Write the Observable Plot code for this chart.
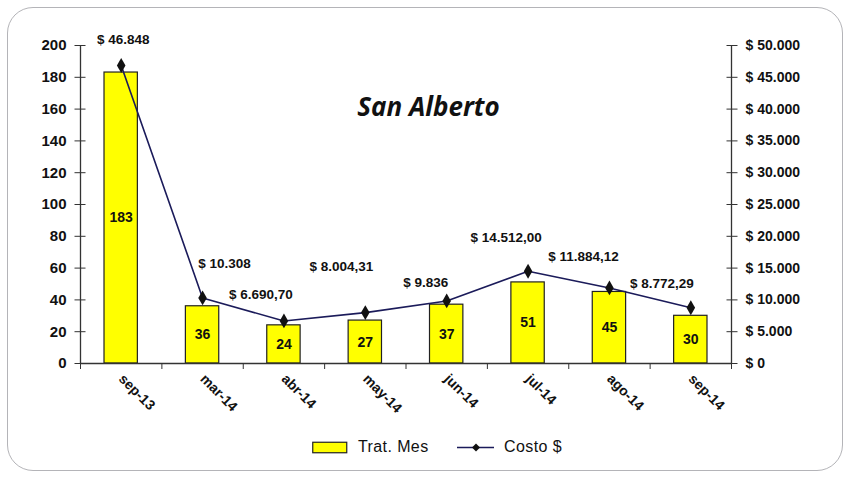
<!DOCTYPE html>
<html>
<head>
<meta charset="utf-8">
<script src="https://cdn.jsdelivr.net/npm/d3@7"></script>
<script src="https://cdn.jsdelivr.net/npm/@observablehq/plot@0.6"></script>
<style>
  html, body { margin: 0; padding: 0; background: #fff; }
  #wrap { position: relative; width: 847px; height: 477px; overflow: hidden; font-family: "Liberation Sans", Arial, sans-serif; }
  #border { position: absolute; left: 7px; top: 7px; width: 836px; height: 464px; border: 1.5px solid #b4b4b8; border-radius: 26px; box-sizing: border-box; pointer-events: none; }
  #title { position: absolute; left: 0; width: 857px; top: 88px; text-align: center; font-family: "Open Sans", "DejaVu Sans", sans-serif; font-weight: 700; font-style: italic; font-size: 26px; color: #111; }
  .leg { position: absolute; top: 438px; display: flex; align-items: center; font-size: 16px; letter-spacing: 0.4px; color: #111; }
  .leg svg { display: block; }
</style>
</head>
<body>
<div id="wrap">
  <div id="chart"></div>
  <div id="title">San Alberto</div>
  <div class="leg" style="left:312px">
    <svg width="36" height="13"><rect x="0.75" y="1.25" width="34" height="10.5" fill="#ffff00" stroke="#222" stroke-width="1.2"></rect></svg>
    <span style="margin-left:10px">Trat. Mes</span>
  </div>
  <div class="leg" style="left:457px">
    <svg width="38" height="13"><line x1="0" y1="6.5" x2="37" y2="6.5" stroke="#1b1b5a" stroke-width="1.3"></line><path d="M19,2.5 L23,6.5 L19,10.5 L15,6.5 Z" fill="#111"></path></svg>
    <span style="margin-left:9px">Costo $</span>
  </div>
  <div id="border"></div>
</div>
<script>
const months = ["sep-13", "mar-14", "abr-14", "may-14", "jun-14", "jul-14", "ago-14", "sep-14"];
const tratMes = [183, 36, 24, 27, 37, 51, 45, 30];
const costo = [46848, 10308, 6690.70, 8004.31, 9836, 14512.00, 11884.12, 8772.29];
const costoLabels = ["$ 46.848", "$ 10.308", "$ 6.690,70", "$ 8.004,31", "$ 9.836", "$ 14.512,00", "$ 11.884,12", "$ 8.772,29"];
const leftTicks = [0, 20, 40, 60, 80, 100, 120, 140, 160, 180, 200];

// label placement offsets (layout only)
const labelOffsets = [[2, -26], [22, -34], [-23, -26], [-24, -46], [-21, -18], [-22, -34], [-26, -31], [-29, -24]];

const ratio = 50000 / 200; // right axis / left axis
const data = months.map((m, i) => ({i, month: m, trat: tratMes[i], cost: costo[i], label: costoLabels[i]}));
const fmtThousands = v => d3.format(",")(Math.round(v)).replace(/,/g, ".");

const chart = Plot.plot({
  width: 847,
  height: 477,
  marginLeft: 80,
  marginRight: 116,
  marginTop: 45,
  marginBottom: 114,
  style: {fontFamily: "Liberation Sans, Arial, sans-serif", color: "#111", background: "transparent", overflow: "visible"},
  x: {type: "linear", domain: [-0.5, 7.5], label: null},
  y: {domain: [0, 200], label: null},
  marks: [
    Plot.rectY(data, {x1: d => d.i - 0.205, x2: d => d.i + 0.205, y: "trat", fill: "#ffff00", stroke: "#222", strokeWidth: 1.2}),
    Plot.ruleY([0], {stroke: "#333", strokeWidth: 1.3}),
    Plot.ruleX([-0.5, 7.5], {y1: 0, y2: 200, stroke: "#333", strokeWidth: 1.3}),
    // left axis
    Plot.axisY({ticks: leftTicks, tickSize: 11, dx: 5.5, tickFormat: () => "", stroke: "#333", label: null}),
    Plot.axisY({ticks: leftTicks, tickSize: 0, tickPadding: 14, fontSize: 15, fontWeight: "bold", tickFormat: d => String(d), label: null}),
    // right axis
    Plot.axisY({anchor: "right", ticks: leftTicks, tickSize: 11, dx: -5.5, tickFormat: () => "", stroke: "#333", label: null}),
    Plot.axisY({anchor: "right", ticks: leftTicks, tickSize: 0, tickPadding: 14, fontSize: 14, fontWeight: "bold", tickFormat: d => "$ " + fmtThousands(d * ratio), label: null}),
    // x axis
    Plot.axisX({ticks: d3.range(-0.5, 8, 1), tickSize: 6, tickFormat: () => "", stroke: "#333", label: null}),
    Plot.axisX({ticks: d3.range(0, 8), tickSize: 0, tickPadding: 13, tickRotate: 45, fontSize: 14, fontWeight: "bold", tickFormat: i => months[i], label: null}),
    // cost line
    Plot.line(data, {x: "i", y: d => d.cost / ratio, stroke: "#1b1b5a", strokeWidth: 1.6}),
    Plot.dot(data, {x: "i", y: d => d.cost / ratio, symbol: "diamond", r: 4.5, fill: "#111", stroke: "none"}),
    // bar value labels
    Plot.text(data, {x: "i", y: d => d.trat / 2, text: d => String(d.trat), fontSize: 14, fontWeight: "bold", fill: "#111"}),
    // cost labels
    ...data.map((d, k) => Plot.text([d], {x: "i", y: v => v.cost / ratio, text: "label", dx: labelOffsets[k][0], dy: labelOffsets[k][1], fontSize: 13.5, fontWeight: "bold", fill: "#111", letterSpacing: "-0.3px"}))
  ]
});
document.getElementById("chart").appendChild(chart);
</script>
</body>
</html>
